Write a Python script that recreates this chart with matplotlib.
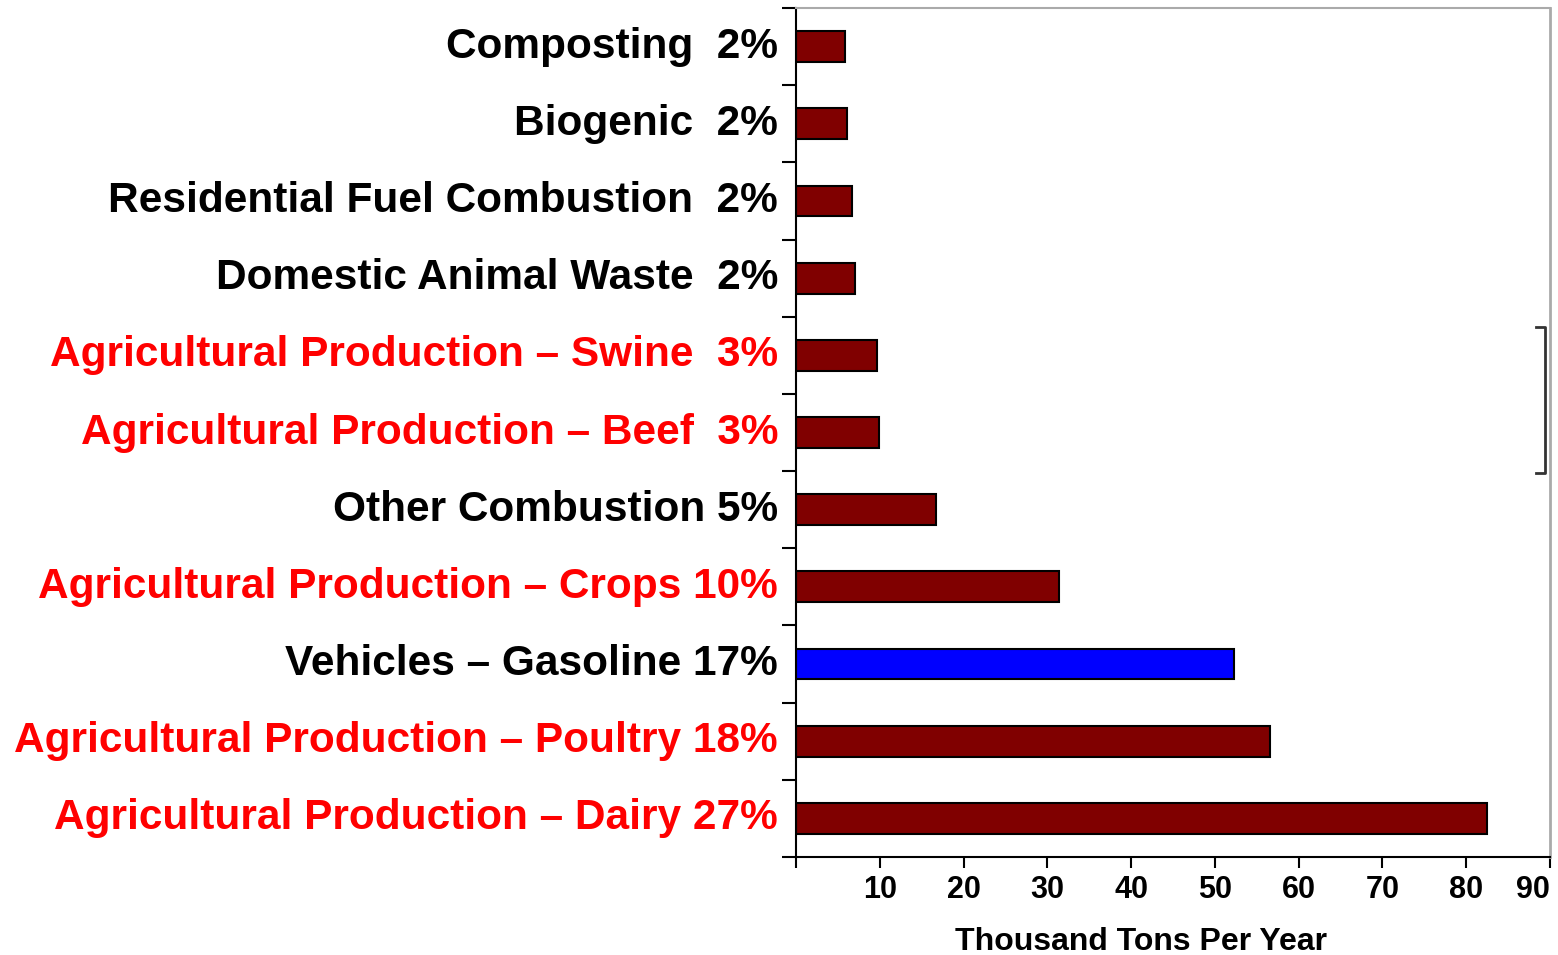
import matplotlib
matplotlib.use("Agg")
import matplotlib.pyplot as plt
import matplotlib.transforms as mtransforms
import numpy as np

categories = [
    "Composting  2%",
    "Biogenic  2%",
    "Residential Fuel Combustion  2%",
    "Domestic Animal Waste  2%",
    "Agricultural Production \u2013 Swine  3%",
    "Agricultural Production \u2013 Beef  3%",
    "Other Combustion 5%",
    "Agricultural Production \u2013 Crops 10%",
    "Vehicles \u2013 Gasoline 17%",
    "Agricultural Production \u2013 Poultry 18%",
    "Agricultural Production \u2013 Dairy 27%",
]
values = [5.85, 6.1, 6.7, 7.0, 9.7, 9.9, 16.7, 31.4, 52.3, 56.6, 82.5]
label_colors = ["black", "black", "black", "black", "red", "red", "black",
                "red", "black", "red", "red"]
bar_colors = ["#800000"] * 8 + ["#0000FF"] + ["#800000"] * 2
xticks = [0, 10, 20, 30, 40, 50, 60, 70, 80, 90]
xticklabels = ["", "10", "20", "30", "40", "50", "60", "70", "80", "90"]

fig = plt.figure(figsize=(15.58, 9.55), dpi=100)
ax = fig.add_axes([796/1558, 1-857/955, (1550-796)/1558, (857-8)/955])

y = np.arange(len(categories))
ax.barh(y, values, height=0.4, color=bar_colors, edgecolor="black", linewidth=1.5)

ax.set_xlim(0, 90)
ax.set_ylim(len(categories) - 0.5, -0.5)

# category labels drawn as text, right-aligned left of the axis
ax.set_yticks([])
label_trans = ax.get_yaxis_transform() + mtransforms.ScaledTranslation(-0.18, 0.0, fig.dpi_scale_trans)
for yi, lbl, c in zip(y, categories, label_colors):
    ax.text(0, yi, lbl, transform=label_trans, ha="right", va="center",
            fontfamily="Liberation Sans", fontweight="bold", fontsize=30.5, color=c)
ax.set_yticks(np.arange(-0.5, len(categories), 1.0), minor=True)
ax.tick_params(axis="y", which="minor", length=10, width=1.5, direction="out", color="black")

ax.set_xticks(xticks)
ax.set_xticklabels(xticklabels, fontfamily="Liberation Sans", fontweight="bold", fontsize=22)
ax.get_xticklabels()[-1].set_ha("right")
ax.tick_params(axis="x", length=8, width=1.5, direction="out", pad=5)

ax.set_xlabel("Thousand Tons Per Year", fontfamily="Liberation Sans", fontweight="bold", fontsize=23)
ax.xaxis.set_label_coords((1141 - 796) / 754, -0.082)

ax.spines["left"].set_linewidth(1.5)
ax.spines["bottom"].set_linewidth(1.5)
ax.spines["top"].set_color("#aaaaaa")
ax.spines["right"].set_color("#aaaaaa")
ax.spines["top"].set_linewidth(1.5)
ax.spines["right"].set_linewidth(2)

# bracket on the right side
bx = (1545 - 796) / 754
bx0 = (1536 - 796) / 754
trans = mtransforms.blended_transform_factory(ax.transAxes, ax.transData)
ax.plot([bx0, bx, bx, bx0], [3.63, 3.63, 5.53, 5.53], color="#333333", lw=2,
        transform=trans, clip_on=False)

fig.savefig("out.png", dpi=100)
